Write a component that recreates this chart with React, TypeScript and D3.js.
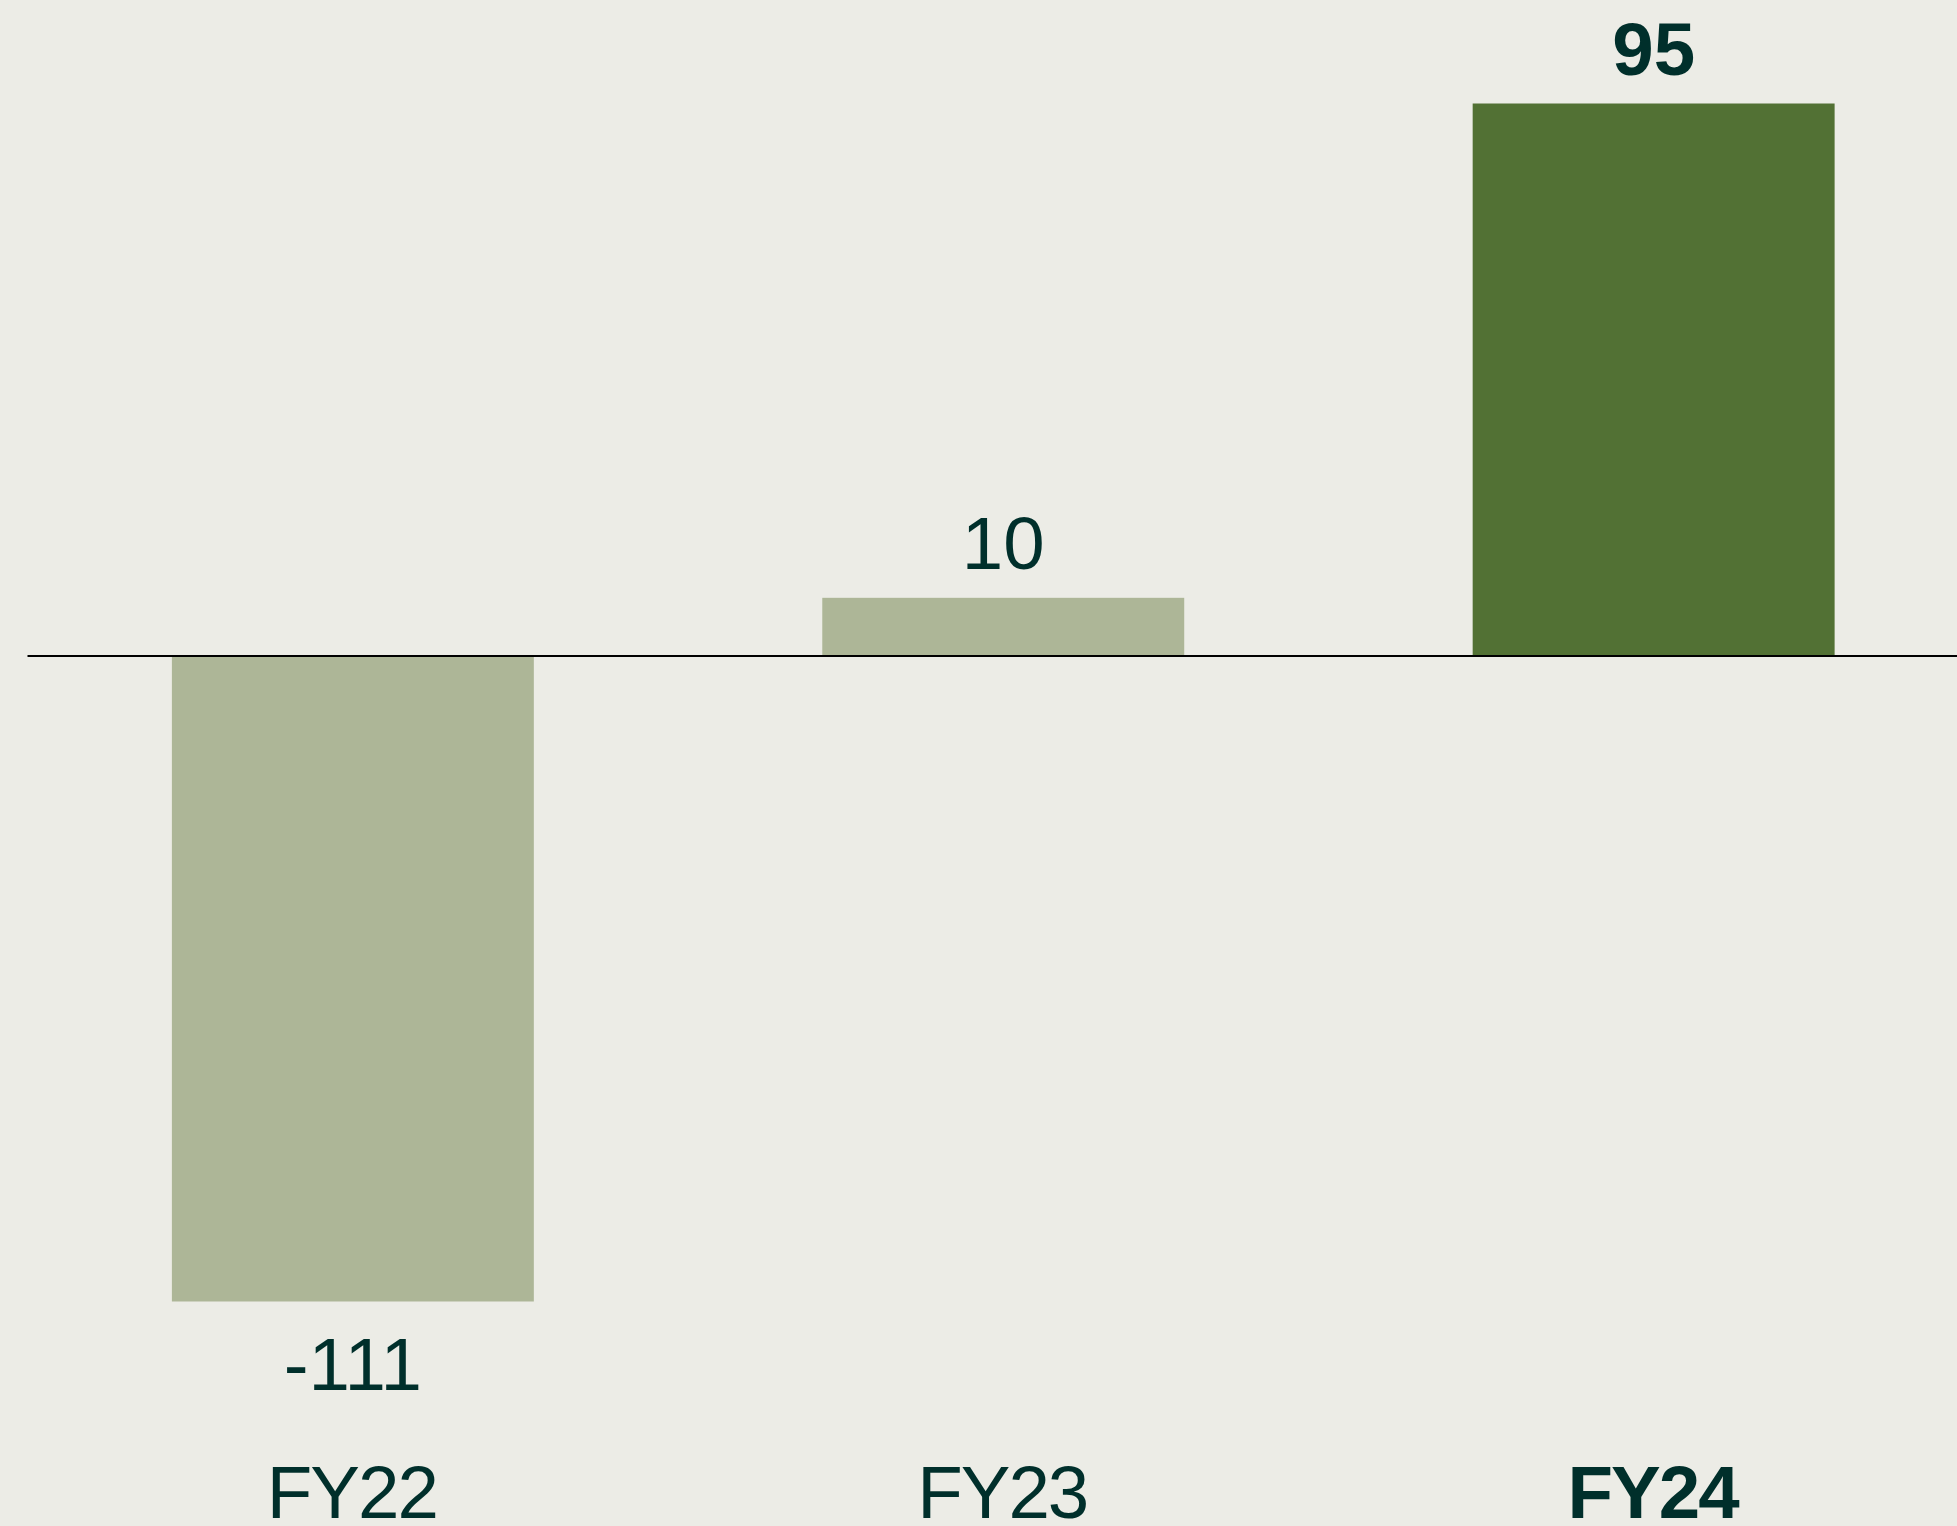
import React from "react";
import * as d3 from "d3";

const categories = ["FY22", "FY23", "FY24"];
const values = [-111, 10, 95];
const highlight = [false, false, true];

const W = 1957;
const H = 1526;
const BG = "#ECECE6";
const LIGHT = "#ADB697";
const DARK = "#527134";
const TEXT = "#002F2B";
const FONT = "'Liberation Sans', Arial, Helvetica, sans-serif";

export default function App() {
  const x = d3
    .scaleBand<string>()
    .domain(categories)
    .range([27.5, 1979])
    .paddingInner(0.4435)
    .paddingOuter(0.222);
  const y = d3.scaleLinear().domain([-111, 95]).range([1301.5, 103.5]);
  const y0 = y(0);
  const fs = 74.5;
  const cap = fs * 0.716;

  return (
    <svg
      width={W}
      height={H}
      style={{ position: "absolute", left: 0, top: 0, display: "block" }}
    >
      <rect x={0} y={0} width={W} height={H} fill={BG} />
      {categories.map((c, i) => {
        const v = values[i];
        const bx = x(c)!;
        const bw = x.bandwidth();
        const top = Math.min(y(v), y0);
        const h = Math.abs(y(v) - y0);
        const cx = bx + bw / 2;
        const labelY = v >= 0 ? y(v) - 29 : y(v) + 35 + cap;
        return (
          <g key={c}>
            <rect
              x={bx}
              y={top}
              width={bw}
              height={h}
              fill={highlight[i] ? DARK : LIGHT}
            />
            <text
              x={cx}
              y={labelY}
              textAnchor="middle"
              fontFamily={FONT}
              fontSize={fs}
              fontWeight={highlight[i] ? "bold" : "normal"}
              fill={TEXT}
            >
              {v}
            </text>
            <text
              x={cx - 1}
              y={1518}
              textAnchor="middle"
              fontFamily={FONT}
              fontSize={fs}
              letterSpacing={-2}
              fontWeight={highlight[i] ? "bold" : "normal"}
              fill={TEXT}
            >
              {c}
            </text>
          </g>
        );
      })}
      <line x1={27.5} x2={W} y1={y0} y2={y0} stroke="#000" strokeWidth={2} />
    </svg>
  );
}
